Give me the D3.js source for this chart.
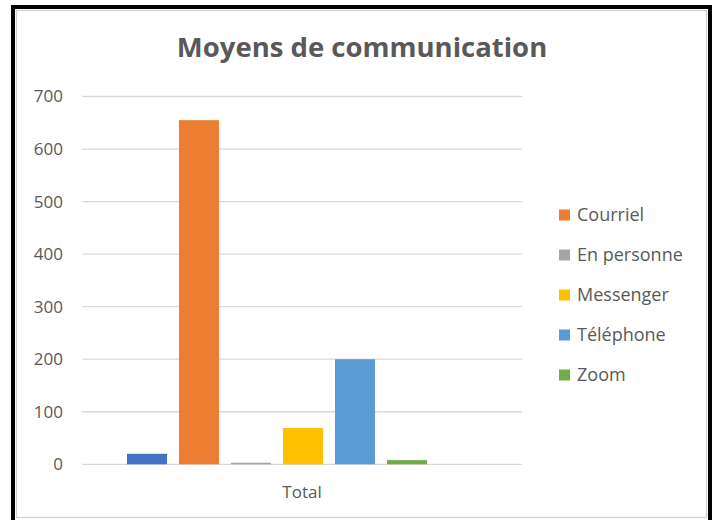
<!DOCTYPE html>
<html lang="fr">
<head>
    <meta charset="UTF-8">
    <title>Moyens de communication</title>
    <script src="https://cdn.jsdelivr.net/npm/d3@7/dist/d3.min.js"></script>
    <style>
        body { margin: 0; background: #fff; }
        text { font-family: "Open Sans", Lato, sans-serif; fill: #595959; }
    </style>
</head>
<body>
    <svg width="717" height="520" id="mainsvg" style="display: block;"></svg>
    <script>
        // data
        const categories = ["Total"];
        const series = ["(vide)", "Courriel", "En personne", "Messenger", "Téléphone", "Zoom", "Autre"];
        const values = [20, 655, 3, 69, 200, 8, 0];
        const colors = ["#4472C4", "#ED7D31", "#A5A5A5", "#FFC000", "#5B9BD5", "#70AD47", "#264478"];
        const legendItems = ["Courriel", "En personne", "Messenger", "Téléphone", "Zoom"];
        const yTicks = [0, 100, 200, 300, 400, 500, 600, 700];

        const svg = d3.select("#mainsvg");
        const plot = {left: 82, right: 522, top: 96.5, bottom: 464.3};

        // outer frame
        svg.append("rect")
            .attr("x", 16.5).attr("y", 10.5)
            .attr("width", 690).attr("height", 507)
            .attr("fill", "#fff")
            .attr("stroke", "#d0d0d0").attr("stroke-width", 1.2);
        svg.append("rect")
            .attr("x", 13).attr("y", 7)
            .attr("width", 697).attr("height", 530)
            .attr("fill", "none")
            .attr("stroke", "#000").attr("stroke-width", 4);

        svg.append("text")
            .attr("x", 362).attr("y", 57)
            .attr("text-anchor", "middle")
            .attr("font-size", 27.5)
            .attr("font-weight", "bold")
            .text("Moyens de communication");

        const y = d3.scaleLinear().domain([0, 700]).range([plot.bottom, plot.top]);
        const x0 = d3.scaleBand().domain(categories).range([plot.left, plot.right]);
        const x1 = d3.scaleBand().domain(series)
            .range([x0("Total") + 39, x0("Total") + 403])
            .paddingInner(0.23).paddingOuter(0.115);

        const g = svg.append("g");

        g.selectAll("line.grid").data(yTicks).join("line")
            .attr("class", "grid")
            .attr("x1", plot.left).attr("x2", plot.right)
            .attr("y1", d => y(d)).attr("y2", d => y(d))
            .attr("stroke", "#d9d9d9").attr("stroke-width", 1.3);

        g.selectAll("text.tick").data(yTicks).join("text")
            .attr("class", "tick")
            .attr("x", 63).attr("y", d => y(d))
            .attr("dy", "0.35em")
            .attr("text-anchor", "end")
            .attr("font-size", 17)
            .text(d => d);

        categories.forEach(c => {
            g.append("g").selectAll("rect").data(series).join("rect")
                .attr("x", s => x1(s))
                .attr("width", x1.bandwidth())
                .attr("y", (s, i) => y(values[i]))
                .attr("height", (s, i) => y(0) - y(values[i]))
                .attr("fill", (s, i) => colors[i]);

            g.append("text")
                .attr("x", x0(c) + x0.bandwidth() / 2)
                .attr("y", 498)
                .attr("text-anchor", "middle")
                .attr("font-size", 17)
                .text(c);
        });

        // legend
        const legend = svg.append("g");
        const ly = d3.scalePoint().domain(legendItems).range([215, 375]);
        legendItems.forEach(name => {
            const i = series.indexOf(name);
            legend.append("rect")
                .attr("x", 559).attr("y", ly(name) - 5.5)
                .attr("width", 11).attr("height", 11)
                .attr("fill", colors[i]);
            legend.append("text")
                .attr("x", 577).attr("y", ly(name))
                .attr("dy", "0.35em")
                .attr("font-size", 18)
                .text(name);
        });
    </script>
</body>
</html>
